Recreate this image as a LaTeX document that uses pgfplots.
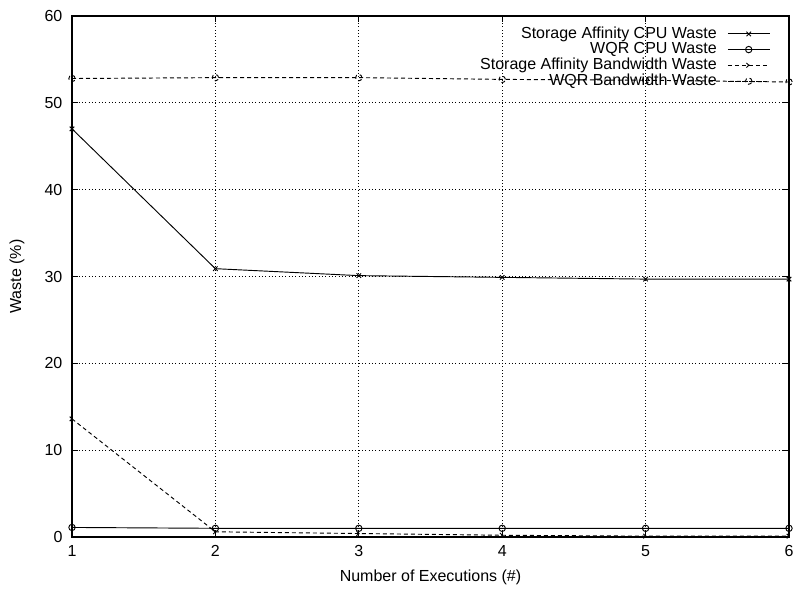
\documentclass[border=0pt]{standalone}
\usepackage{pgfplots}
\pgfplotsset{compat=1.18}
\usepackage{fontspec}
\setmainfont{Liberation Sans}
\begin{document}
\fontsize{12}{14}\selectfont
\begin{tikzpicture}
\begin{axis}[
  name=ax,
  scale only axis,
  width=537.75pt, height=390.75pt,
  xmin=1, xmax=6, ymin=0, ymax=60,
  xtick={1,2,3,4,5,6}, ytick={0,10,20,30,40,50,60},
  /pgf/number format/assume math mode=true,
  tick label style={font=\fontsize{12}{14}\selectfont},
  label style={font=\fontsize{12}{14}\selectfont},
  tick align=inside,
  major tick length=4.5pt,
  xtick pos=both, ytick pos=both,
  grid=major,
  grid style={black, line width=0.5pt, dotted},
  axis line style={line width=0.8pt},
  tick style={black, line width=0.6pt},
  xlabel={Number of Executions (\#)},
  ylabel={Waste (\%)},
  xticklabel style={yshift=-2pt},
  yticklabel style={xshift=-3pt},
  xlabel style={yshift=-2pt},
  ylabel style={yshift=7pt},
  legend plot pos=right,
  legend cell align=right,
  legend style={at={(rel axis cs:1,1)}, anchor=north east, draw=none, fill=none,
    font=\fontsize{12}{14}\selectfont, row sep=-2.6pt, column sep=6pt,
    xshift=-11pt, yshift=-4pt},
  legend image code/.code={\draw[mark repeat=2,mark phase=2,#1] plot coordinates {(0cm,0cm) (0.55cm,0cm) (1.1cm,0cm)};},
  every axis plot/.append style={black, line width=0.7pt, mark size=2.4pt},
  every mark/.append style={solid},
]
\addplot[mark=x] coordinates {(1,47.0) (2,30.9) (3,30.1) (4,29.9) (5,29.7) (6,29.7)};
\addlegendentry{Storage Affinity CPU Waste}
\addplot[mark=o, mark size=2.4pt] coordinates {(1,1.1) (2,1.0) (3,1.0) (4,1.0) (5,1.0) (6,1.0)};
\addlegendentry{WQR CPU Waste}
\addplot[mark=x, dash pattern=on 3pt off 2.25pt] coordinates {(1,13.6) (2,0.6) (3,0.4) (4,0.2) (5,0.1) (6,0.1)};
\addlegendentry{Storage Affinity Bandwidth Waste}
\addplot[mark=o, mark size=2.4pt, dash pattern=on 3pt off 2.25pt] coordinates {(1,52.8) (2,52.9) (3,52.9) (4,52.7) (5,52.6) (6,52.4)};
\addlegendentry{WQR Bandwidth Waste}
\end{axis}
\pgfresetboundingbox
\useasboundingbox ([shift={(-54pt,-38.25pt)}]ax.south west) rectangle ([shift={(3.75pt,12pt)}]ax.north east);
\end{tikzpicture}
\end{document}
